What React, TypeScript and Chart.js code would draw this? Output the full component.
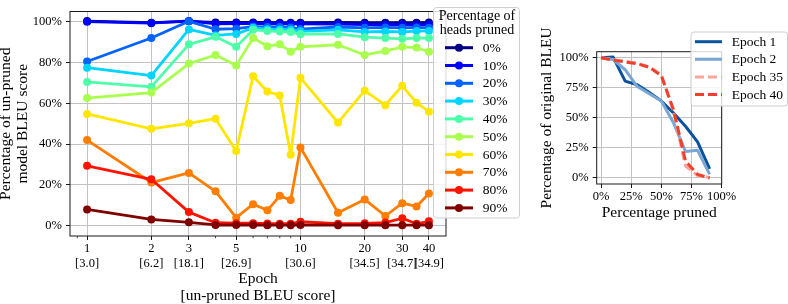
import React, { useEffect, useRef } from 'react';
import { Chart, registerables } from 'chart.js';

Chart.register(...registerables);

const FONT = "'Liberation Serif', 'DejaVu Serif', serif";

// ---------- Left chart data ----------
const epochs = [1, 2, 3, 4, 5, 6, 7, 8, 9, 10, 15, 20, 25, 30, 35, 40];
const epochTicks = [1, 2, 3, 5, 10, 20, 30, 40];
const epochTickBleu = ['[3.0]', '[6.2]', '[18.1]', '[26.9]', '[30.6]', '[34.5]', '[34.7]', '[34.9]'];
const epochMinorTicks = [0.9, 4, 6, 7, 8, 9];
const leftYTicks = [0, 20, 40, 60, 80, 100];

const headsPrunedLabels = ['0%', '10%', '20%', '30%', '40%', '50%', '60%', '70%', '80%', '90%'];
const headsPrunedColors = ['#000080', '#0000ff', '#0063ff', '#00d4ff', '#4effa9', '#a9ff4e', '#ffe600', '#ff7d00', '#ff1400', '#800000'];

const pruned0 = [100.3, 99.5, 100.2, 99.6, 99.6, 99.6, 99.6, 99.5, 99.5, 99.5, 99.6, 99.5, 99.5, 99.5, 99.5, 99.6];
const pruned10 = [100.0, 99.3, 100.4, 99.0, 99.1, 99.2, 99.1, 99.0, 99.0, 98.9, 98.8, 98.6, 98.5, 98.5, 98.4, 98.6];
const pruned20 = [80.5, 92.0, 100.2, 96.3, 96.6, 97.6, 97.4, 97.4, 97.2, 96.4, 97.4, 97.0, 97.2, 97.0, 97.2, 97.0];
const pruned30 = [77.5, 73.6, 96.2, 93.3, 94.0, 97.0, 96.3, 96.2, 96.0, 95.3, 96.0, 95.0, 95.2, 95.0, 95.4, 95.5];
const pruned40 = [70.5, 68.1, 88.9, 92.6, 87.7, 96.0, 95.5, 95.2, 95.0, 93.9, 94.0, 92.4, 92.0, 91.6, 92.0, 92.0];
const pruned50 = [62.6, 65.3, 79.5, 83.7, 78.6, 92.0, 88.0, 88.9, 85.3, 87.7, 88.7, 83.7, 85.6, 87.7, 87.3, 85.3];
const pruned60 = [54.8, 47.5, 50.2, 52.5, 36.7, 73.3, 65.8, 63.9, 34.8, 72.5, 50.6, 66.2, 59.1, 68.6, 60.3, 55.9];
const pruned70 = [42.0, 21.2, 25.9, 16.9, 4.0, 10.6, 7.6, 14.7, 12.6, 38.4, 6.4, 12.9, 4.8, 11.1, 9.5, 15.8];
const pruned80 = [29.4, 22.8, 6.7, 1.5, 1.3, 1.3, 1.1, 1.0, 1.0, 2.0, 1.0, 1.2, 1.6, 3.7, 1.0, 2.2];
const pruned90 = [8.0, 3.1, 1.7, 0.4, 0.4, 0.4, 0.3, 0.3, 0.3, 0.4, 0.3, 0.3, 0.3, 0.3, 0.3, 0.3];

const leftSeries = [pruned0, pruned10, pruned20, pruned30, pruned40, pruned50, pruned60, pruned70, pruned80, pruned90];

// ---------- Right chart data ----------
const percentPruned = [0, 10, 20, 30, 40, 50, 60, 70, 80, 90];
const rightXTicks = [0, 25, 50, 75, 100];
const rightYTicks = [0, 25, 50, 75, 100];
const epochLabels = ['Epoch 1', 'Epoch 2', 'Epoch 35', 'Epoch 40'];
const epochColors = ['#0b519c', '#7ba7d5', '#fba59b', '#f0402d'];
const epochDashed = [false, false, true, true];

const epoch1 = [100, 100.5, 80.5, 77.5, 71, 64, 54, 43, 30, 7.5];
const epoch2 = [100, 98.5, 90, 76, 70, 64, 46, 22, 23, 3];
const epoch35 = [100, 98.5, 97, 95.5, 92.5, 86, 55, 10, 2, 0.5];
const epoch40 = [100, 98, 96.5, 95, 92, 85, 57, 14, 3, 0];

const rightSeries = [epoch1, epoch2, epoch35, epoch40];

const GRID = '#c2c2c2';
const TEXT = '#000';

function roundRect(ctx: CanvasRenderingContext2D, x: number, y: number, w: number, h: number, r: number) {
  ctx.beginPath();
  ctx.moveTo(x + r, y);
  ctx.lineTo(x + w - r, y);
  ctx.arcTo(x + w, y, x + w, y + r, r);
  ctx.lineTo(x + w, y + h - r);
  ctx.arcTo(x + w, y + h, x + w - r, y + h, r);
  ctx.lineTo(x + r, y + h);
  ctx.arcTo(x, y + h, x, y + h - r, r);
  ctx.lineTo(x, y + r);
  ctx.arcTo(x, y, x + r, y, r);
  ctx.closePath();
}

const framePlugin = {
  id: 'frame',
  afterDatasetsDraw(chart: any) {
    const { ctx, chartArea } = chart;
    ctx.save();
    ctx.strokeStyle = '#1a1a1a';
    ctx.lineWidth = 1;
    ctx.strokeRect(chartArea.left, chartArea.top, chartArea.right - chartArea.left, chartArea.bottom - chartArea.top);
    ctx.restore();
  },
};

const minorTickPlugin = {
  id: 'minorTicks',
  afterDraw(chart: any) {
    const { ctx, chartArea } = chart;
    const xs = chart.scales.x;
    ctx.save();
    ctx.strokeStyle = '#1a1a1a';
    ctx.lineWidth = 0.8;
    epochMinorTicks.forEach((v) => {
      const x = xs.getPixelForValue(v);
      ctx.beginPath();
      ctx.moveTo(x, chartArea.bottom);
      ctx.lineTo(x, chartArea.bottom + 2.2);
      ctx.stroke();
    });
    ctx.restore();
  },
};

const leftLegendPlugin = {
  id: 'leftLegend',
  afterDraw(chart: any) {
    const ctx = chart.ctx as CanvasRenderingContext2D;
    ctx.save();
    roundRect(ctx, 433.5, 7.5, 86, 210.5, 3);
    ctx.fillStyle = 'rgba(255,255,255,0.82)';
    ctx.fill();
    ctx.strokeStyle = '#cfcfcf';
    ctx.lineWidth = 1;
    ctx.stroke();
    ctx.fillStyle = TEXT;
    ctx.font = `14px ${FONT}`;
    ctx.textAlign = 'center';
    ctx.textBaseline = 'middle';
    ctx.fillText('Percentage of', 477, 16.5);
    ctx.fillText('heads pruned', 477, 30.5);
    ctx.textAlign = 'left';
    ctx.font = `13.5px ${FONT}`;
    headsPrunedLabels.forEach((lab, i) => {
      const y = 47.7 + i * 17.8;
      ctx.strokeStyle = headsPrunedColors[i];
      ctx.lineWidth = 3;
      ctx.beginPath();
      ctx.moveTo(445, y);
      ctx.lineTo(473, y);
      ctx.stroke();
      ctx.fillStyle = headsPrunedColors[i];
      ctx.beginPath();
      ctx.arc(459, y, 4, 0, Math.PI * 2);
      ctx.fill();
      ctx.fillStyle = TEXT;
      ctx.fillText(lab, 482.7, y + 0.5);
    });
    ctx.restore();
  },
};

const rightLegendPlugin = {
  id: 'rightLegend',
  afterDraw(chart: any) {
    const ctx = chart.ctx as CanvasRenderingContext2D;
    ctx.save();
    roundRect(ctx, 166, 32, 96.5, 74, 3);
    ctx.fillStyle = 'rgba(255,255,255,0.82)';
    ctx.fill();
    ctx.strokeStyle = '#cfcfcf';
    ctx.lineWidth = 1;
    ctx.stroke();
    ctx.font = `13.5px ${FONT}`;
    ctx.textAlign = 'left';
    ctx.textBaseline = 'middle';
    epochLabels.forEach((lab, i) => {
      const y = 41.7 + i * 17.6;
      ctx.strokeStyle = epochColors[i];
      ctx.lineWidth = 3;
      ctx.setLineDash(epochDashed[i] ? [9, 4] : []);
      ctx.beginPath();
      ctx.moveTo(170, y);
      ctx.lineTo(197, y);
      ctx.stroke();
      ctx.setLineDash([]);
      ctx.fillStyle = TEXT;
      ctx.fillText(lab, 206.7, y + 0.5);
    });
    ctx.restore();
  },
};

function LeftChart() {
  const ref = useRef<HTMLCanvasElement | null>(null);
  useEffect(() => {
    if (!ref.current) return;
    const datasets = leftSeries.map((vals, i) => ({
      label: headsPrunedLabels[i],
      data: epochs.map((e, j) => ({ x: e, y: vals[j] })),
      borderColor: headsPrunedColors[i],
      backgroundColor: headsPrunedColors[i],
      pointBackgroundColor: headsPrunedColors[i],
      pointBorderColor: headsPrunedColors[i],
      borderWidth: 2.8,
      pointRadius: 4,
      pointBorderWidth: 0,
      pointHoverRadius: 4,
      tension: 0,
      borderJoinStyle: 'round' as const,
      order: 9 - i,
    }));
    const chart = new Chart(ref.current, {
      type: 'line',
      data: { datasets },
      plugins: [framePlugin, minorTickPlugin, leftLegendPlugin],
      options: {
        responsive: false,
        animation: false,
        devicePixelRatio: 1,
        layout: { padding: { top: 1, right: 79, bottom: 0, left: 0 } },
        plugins: { legend: { display: false }, tooltip: { enabled: false } },
        scales: {
          x: {
            type: 'logarithmic',
            min: 0.8316,
            max: 48.1,
            afterBuildTicks: (s: any) => {
              s.ticks = epochTicks.map((v) => ({ value: v }));
            },
            afterFit: (s: any) => {
              s.height = 68;
            },
            ticks: {
              autoSkip: false,
              maxRotation: 0,
              minRotation: 0,
              padding: 1.5,
              color: TEXT,
              font: { family: FONT, size: 12.5, lineHeight: 15 / 12.5 },
              callback: (v: any) => {
                const i = epochTicks.indexOf(Number(v));
                return i >= 0 ? [String(epochTicks[i]), epochTickBleu[i]] : '';
              },
            },
            grid: { color: GRID, lineWidth: 1, tickLength: 4, tickColor: '#1a1a1a', drawTicks: true },
            border: { display: false },
            title: {
              display: true,
              text: ['Epoch', '[un-pruned BLEU score]'],
              color: TEXT,
              font: { family: FONT, size: 15.5, lineHeight: 17 / 15.5 },
              padding: 0,
            },
          },
          y: {
            type: 'linear',
            min: -5,
            max: 105,
            afterBuildTicks: (s: any) => {
              s.ticks = leftYTicks.map((v) => ({ value: v }));
            },
            afterFit: (s: any) => {
              s.width = 70;
            },
            ticks: {
              padding: 4,
              color: TEXT,
              font: { family: FONT, size: 12.5 },
              callback: (v: any) => `${v}%`,
            },
            grid: { color: GRID, lineWidth: 1, tickLength: 4, tickColor: '#1a1a1a', drawTicks: true },
            border: { display: false },
            title: {
              display: true,
              text: ['Percentage of un-pruned', 'model BLEU score'],
              color: TEXT,
              font: { family: FONT, size: 15.5, lineHeight: 17 / 15.5 },
              padding: { top: -2.5, bottom: 0 },
            },
          },
        },
      } as any,
    });
    return () => chart.destroy();
  }, []);
  return <canvas ref={ref} width={525} height={304} style={{ position: 'absolute', left: 0, top: 0, width: 525, height: 304 }} />;
}

function RightChart() {
  const ref = useRef<HTMLCanvasElement | null>(null);
  useEffect(() => {
    if (!ref.current) return;
    const datasets = rightSeries.map((vals, i) => ({
      label: epochLabels[i],
      data: percentPruned.map((p, j) => ({ x: p, y: vals[j] })),
      borderColor: epochColors[i],
      backgroundColor: epochColors[i],
      borderWidth: 3,
      borderDash: epochDashed[i] ? [9, 4] : [],
      pointRadius: 0,
      pointHoverRadius: 0,
      tension: 0,
      borderJoinStyle: 'round' as const,
      order: 3 - i,
    }));
    const chart = new Chart(ref.current, {
      type: 'line',
      data: { datasets },
      plugins: [framePlugin, rightLegendPlugin],
      options: {
        responsive: false,
        animation: false,
        devicePixelRatio: 1,
        layout: { padding: { top: 51.7, right: 66.3, bottom: 0, left: 0 } },
        plugins: { legend: { display: false }, tooltip: { enabled: false } },
        scales: {
          x: {
            type: 'linear',
            min: -3.6,
            max: 100,
            afterBuildTicks: (s: any) => {
              s.ticks = rightXTicks.map((v) => ({ value: v }));
            },
            afterFit: (s: any) => {
              s.height = 120;
            },
            ticks: {
              autoSkip: false,
              maxRotation: 0,
              minRotation: 0,
              padding: 1.5,
              color: TEXT,
              font: { family: FONT, size: 12.5, lineHeight: 15 / 12.5 },
              callback: (v: any) => `${v}%`,
            },
            grid: { color: GRID, lineWidth: 1, tickLength: 4, tickColor: '#1a1a1a', drawTicks: true },
            border: { display: false },
            title: {
              display: true,
              text: 'Percentage pruned',
              color: TEXT,
              font: { family: FONT, size: 15.5, lineHeight: 17 / 15.5 },
              padding: { top: 0, bottom: 82.8 },
            },
          },
          y: {
            type: 'linear',
            min: -5,
            max: 105,
            afterBuildTicks: (s: any) => {
              s.ticks = rightYTicks.map((v) => ({ value: v }));
            },
            afterFit: (s: any) => {
              s.width = 71.7;
            },
            ticks: {
              padding: 4,
              color: TEXT,
              font: { family: FONT, size: 12.5 },
              callback: (v: any) => `${v}%`,
            },
            grid: { color: GRID, lineWidth: 1, tickLength: 4, tickColor: '#1a1a1a', drawTicks: true },
            border: { display: false },
            title: {
              display: true,
              text: 'Percentage of original BLEU',
              color: TEXT,
              font: { family: FONT, size: 15.5, lineHeight: 17 / 15.5 },
              padding: { top: 13.5, bottom: 0 },
            },
          },
        },
      } as any,
    });
    return () => chart.destroy();
  }, []);
  return <canvas ref={ref} width={263} height={304} style={{ position: 'absolute', left: 525, top: 0, width: 263, height: 304 }} />;
}

export default function App() {
  return (
    <div style={{ position: 'absolute', left: 0, top: 0, width: 788, height: 304, background: '#fff', overflow: 'hidden' }}>
      <LeftChart />
      <RightChart />
    </div>
  );
}
